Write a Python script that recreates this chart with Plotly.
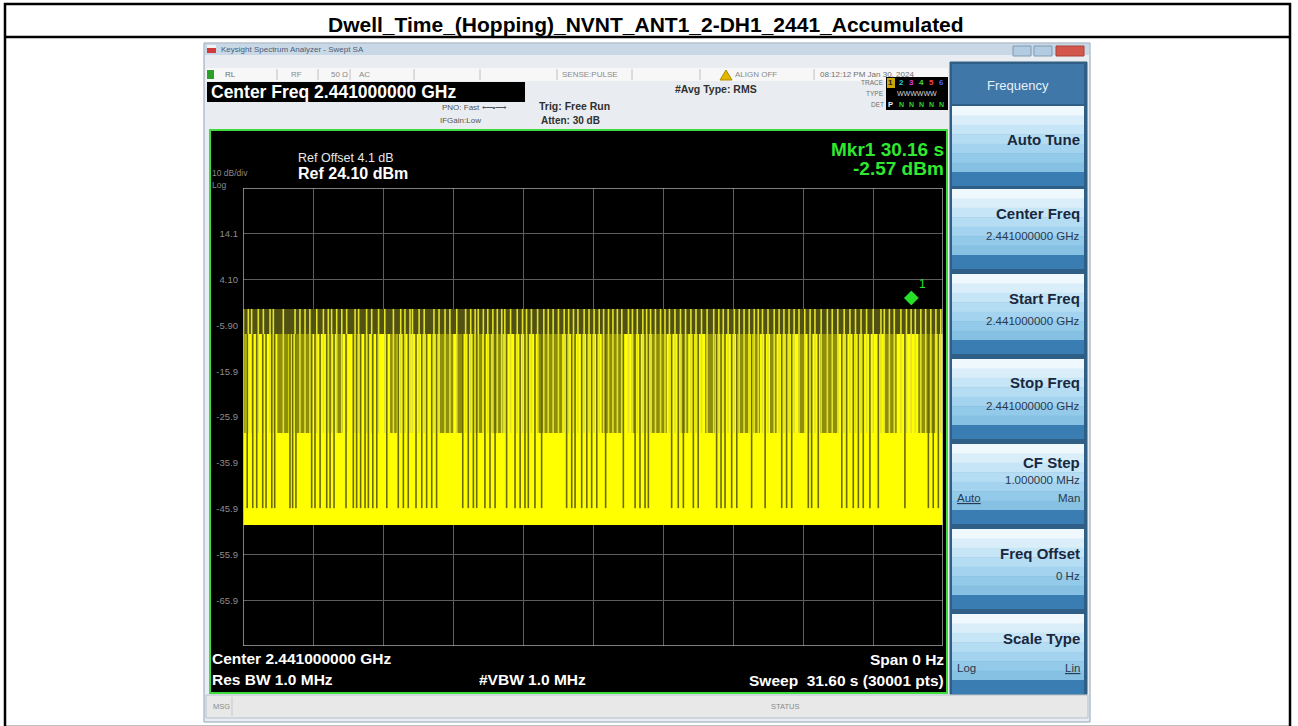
import plotly.graph_objects as go

W, H = 1298, 726
FONT = "Liberation Sans, Arial, sans-serif"


def px(x):
    return x / W


def py(y):
    return 1 - y / H


# ---------------- data ----------------
title_text = "Dwell_Time_(Hopping)_NVNT_ANT1_2-DH1_2441_Accumulated"
sweep_time_s = 31.60
n_div = 10
ref_level_dbm = 24.10
db_per_div = 10.0
y_tick_values = [14.1, 4.1, -5.9, -15.9, -25.9, -35.9, -45.9, -55.9, -65.9]
y_tick_labels = ["14.1", "4.10", "-5.90", "-15.9", "-25.9", "-35.9", "-45.9", "-55.9", "-65.9"]

peak_band_top_dbm = -2.3      # top of the dim peak band
pulse_top_dbm = -7.8          # top of the solid yellow body
partial_gap_bottom_dbm = -29.4
gap_bottom_dbm = -45.8
noise_floor_dbm = -49.5

marker_time_s = 30.16
marker_level_dbm = -2.57

# thin dark gaps (no pulse) inside the solid body, seconds
gap_times_s = [0.19, 0.44, 0.62, 0.89, 1.04, 1.30, 1.43, 2.12, 2.24, 2.39, 3.10, 3.25,
               3.48, 3.78, 3.93, 4.11, 4.65, 4.98, 5.13, 5.31, 5.51, 5.66, 5.86, 6.04,
               6.49, 7.01, 7.24, 7.46, 7.81, 8.07, 8.29, 8.52, 8.74, 9.92, 10.17, 10.40,
               10.55, 10.92, 11.15, 11.38, 11.90, 12.28, 12.51, 12.73, 12.88, 13.18, 13.48,
               14.61, 14.84, 14.99, 15.29, 15.52, 15.74, 15.97, 16.37, 17.17, 17.70, 17.92,
               18.15, 18.30, 19.35, 19.65, 19.88, 20.33, 20.55, 21.38, 21.58, 21.76, 22.06,
               22.29, 22.96, 23.57, 24.32, 24.54, 24.77, 25.52, 25.67, 25.97, 27.03, 27.25,
               27.55, 27.78, 28.00, 28.30, 28.68, 29.88, 30.94, 31.16, 31.39]

# wider partial gaps (olive bands reaching only ~-29 dBm)
partial_gap_start_s = [0.00, 1.55, 2.42, 4.23, 6.64, 8.89, 9.65, 10.47, 11.23, 13.33, 16.19,
                       17.55, 18.45, 19.80, 20.86, 22.36, 23.04, 23.79, 25.07, 26.05, 28.98, 30.48]
partial_gap_end_s = [0.12, 2.05, 3.06, 4.50, 6.94, 9.49, 9.92, 10.80, 11.75, 14.41, 17.10,
                     17.70, 19.13, 20.10, 21.31, 22.81, 23.34, 24.09, 25.37, 26.87, 29.51, 31.24]

# bright pulses seen in the peak band (and through the olive bands)
spike_times_s = [0.02, 0.24, 0.39, 0.69, 0.92, 1.22, 1.37, 1.82, 2.35, 2.57, 2.80, 3.02,
                 3.33, 3.63, 3.85, 4.00, 4.23, 4.46, 4.68, 5.06, 5.22, 5.58, 5.81, 6.12,
                 6.40, 6.79, 7.12, 7.31, 7.54, 7.65, 7.95, 8.18, 8.62, 8.85, 9.12, 9.34,
                 9.65, 10.05, 10.28, 10.48, 10.62, 10.85, 11.05, 11.28, 11.48, 11.68, 11.82,
                 12.08, 12.38, 12.62, 12.80, 13.02, 13.30, 13.58, 13.78, 14.00, 14.24, 14.50,
                 14.70, 14.92, 15.12, 15.40, 15.62, 15.85, 16.08, 16.28, 16.50, 16.70, 16.90,
                 17.10, 17.40, 17.58, 17.80, 18.05, 18.22, 18.40, 18.62, 18.85, 19.05, 19.25,
                 19.50, 19.75, 19.98, 20.22, 20.45, 20.70, 20.95, 21.25, 21.48, 21.68, 21.90,
                 22.18, 22.40, 22.62, 22.85, 23.08, 23.26, 23.45, 23.70, 23.98, 24.20, 24.42,
                 24.65, 24.88, 25.10, 25.36, 25.60, 25.82, 26.10, 26.38, 26.60, 26.85, 27.14,
                 27.40, 27.65, 27.90, 28.15, 28.45, 28.80, 28.95, 29.18, 29.40, 29.70, 29.95,
                 30.16, 30.35, 30.60, 30.82, 31.05, 31.28, 31.50]

softkey_labels = ["Auto Tune", "Center Freq", "Start Freq", "Stop Freq", "CF Step", "Freq Offset", "Scale Type"]
softkey_values = ["", "2.441000000 GHz", "2.441000000 GHz", "2.441000000 GHz", "1.000000 MHz", "0 Hz", ""]

# ---------------- figure ----------------
y_bottom = ref_level_dbm - n_div * db_per_div
fig = go.Figure()

# solid pulse body
fig.add_trace(go.Scatter(
    x=[0, sweep_time_s, sweep_time_s, 0, 0],
    y=[pulse_top_dbm, pulse_top_dbm, noise_floor_dbm, noise_floor_dbm, pulse_top_dbm],
    fill="toself", fillcolor="#ffff00", mode="lines", line=dict(width=0),
    hoverinfo="skip", showlegend=False))

# dim peak band
fig.add_trace(go.Scatter(
    x=[0, sweep_time_s, sweep_time_s, 0, 0],
    y=[peak_band_top_dbm, peak_band_top_dbm, pulse_top_dbm, pulse_top_dbm, peak_band_top_dbm],
    fill="toself", fillcolor="#515114", mode="lines", line=dict(width=0),
    hoverinfo="skip", showlegend=False))

# partial gaps as olive polygons
bx, by = [], []
for s, e in zip(partial_gap_start_s, partial_gap_end_s):
    bx += [s, e, e, s, s, None]
    by += [pulse_top_dbm, pulse_top_dbm, partial_gap_bottom_dbm, partial_gap_bottom_dbm, pulse_top_dbm, None]
fig.add_trace(go.Scatter(x=bx, y=by, fill="toself", fillcolor="#8e8e0a", mode="lines",
                         line=dict(width=0), hoverinfo="skip", showlegend=False))

# pulse spikes (peak band + through the olive bands)
sx, sy = [], []
for t in spike_times_s:
    sx += [t, t, None]
    sy += [partial_gap_bottom_dbm, peak_band_top_dbm, None]
fig.add_trace(go.Scatter(x=sx, y=sy, mode="lines", line=dict(color="#e2e22c", width=1.6),
                         hoverinfo="skip", showlegend=False))

# thin gaps
gx, gy = [], []
for t in gap_times_s:
    gx += [t, t, None]
    gy += [pulse_top_dbm, gap_bottom_dbm, None]
fig.add_trace(go.Scatter(x=gx, y=gy, mode="lines", line=dict(color="#6a6a08", width=1.6),
                         hoverinfo="skip", showlegend=False))

shapes = []


def rect(x0, y0, x1, y1, fill, line=None, lw=0, layer="below"):
    shapes.append(dict(type="rect", xref="paper", yref="paper",
                       x0=px(x0), x1=px(x1), y0=py(y1), y1=py(y0),
                       fillcolor=fill, line=dict(color=line or fill, width=lw), layer=layer))


def hline(x0, x1, y, color, lw=1):
    shapes.append(dict(type="line", xref="paper", yref="paper", x0=px(x0), x1=px(x1),
                       y0=py(y), y1=py(y), line=dict(color=color, width=lw), layer="below"))


def vline(x, y0, y1, color, lw=1):
    shapes.append(dict(type="line", xref="paper", yref="paper", x0=px(x), x1=px(x),
                       y0=py(y0), y1=py(y1), line=dict(color=color, width=lw), layer="below"))


ann = []


def txt(x, y, s, size, color, bold=False, xanchor="left", family=FONT):
    ann.append(dict(x=px(x), y=py(y), xref="paper", yref="paper",
                    text=("<b>%s</b>" % s) if bold else s, showarrow=False,
                    xanchor=xanchor, yanchor="middle", borderpad=0,
                    font=dict(size=size, color=color, family=family)))


# outer table
rect(5, 4, 1290, 727, "rgba(0,0,0,0)", "#000000", 2.5)
hline(5, 1290, 37, "#000000", 2.5)
txt(646, 24, title_text, 21, "#000000", bold=True, xanchor="center")

# screenshot frame
rect(204, 43, 1090, 722, "#e9edf1", "#8ea3b5", 1)
rect(205, 44, 1089, 55, "#c9d8e6")
rect(207, 45, 216, 48, "#f2f2f2")
rect(207, 48, 216, 53, "#d23a3a")
txt(220, 49.5, "Keysight Spectrum Analyzer - Swept SA", 8, "#4a5f78")
rect(1013, 46, 1031, 56, "#b2cbe0", "#7f9bb4", 1)
rect(1034, 46, 1052, 56, "#b2cbe0", "#7f9bb4", 1)
rect(1056, 46, 1084, 56, "#d4574c", "#a8423a", 1)

# status row
rect(206, 68, 948, 81, "#f7f7f7")
rect(207, 70, 214, 79, "#2aa02a")
txt(224, 74.5, "RL", 8, "#707070")
txt(290, 74.5, "RF", 8, "#8a8a8a")
txt(330, 74.5, "50 Ω", 8, "#8a8a8a")
txt(358, 74.5, "AC", 8, "#8a8a8a")
for sx_ in [277, 318, 350, 414, 480, 557, 632, 700, 814]:
    vline(sx_, 69, 80, "#c0c0c0")
txt(561, 75, "SENSE:PULSE", 8, "#8a8a8a")
shapes.append(dict(type="path", xref="paper", yref="paper",
                   path="M %f %f L %f %f L %f %f Z" % (px(720), py(80), px(732), py(80), px(726), py(70)),
                   fillcolor="#e0b800", line=dict(color="#b08a00", width=1), layer="below"))
txt(734, 75, "ALIGN OFF", 8, "#8a8a8a")
txt(819, 75, "08:12:12 PM Jan 30, 2024", 8, "#707070")

txt(674, 89, "#Avg Type: RMS", 10.5, "#303030", bold=True)
txt(885, 82, "TRACE", 6.5, "#707070", xanchor="right")
txt(885, 93, "TYPE", 6.5, "#707070", xanchor="right")
txt(885, 104, "DET", 6.5, "#707070", xanchor="right")
rect(886, 77, 948, 110, "#000000")
rect(887, 78, 895, 88, "#c8a800")
for i, c in enumerate(["#202020", "#26d0e8", "#e040e0", "#40e040", "#ff4040", "#5060ff"]):
    txt(891 + 10 * i, 83, str(i + 1), 8, c, bold=True, xanchor="center")
txt(917, 94, "WWWWWW", 7, "#d8d8d8", xanchor="center")
txt(891, 105, "P", 7.5, "#f0f0f0", bold=True, xanchor="center")
for i in range(1, 6):
    txt(891 + 10 * i, 105, "N", 7, "#30d030", bold=True, xanchor="center")

# center freq bar
rect(207, 82, 525, 102, "#000000")
txt(210, 92, "Center Freq 2.441000000 GHz", 17.5, "#ffffff", bold=True)
txt(441, 108, "PNO: Fast ⟵•⟶", 8, "#555555")
txt(439, 121, "IFGain:Low", 8, "#555555")
txt(538, 106, "Trig: Free Run", 10.5, "#303030", bold=True)
txt(540, 120, "Atten: 30 dB", 10, "#303030", bold=True)

# plot panel
rect(210, 130, 947, 693, "#000000", "#3cdc3c", 2)
txt(297, 158, "Ref Offset 4.1 dB", 12.5, "#e8e8e8")
txt(297, 173, "Ref 24.10 dBm", 16, "#ffffff", bold=True)
txt(211, 173, "10 dB/div", 8.5, "#8a8a8a")
txt(211, 185, "Log", 8.5, "#8a8a8a")
txt(945, 149, "Mkr1 30.16 s", 19, "#30e830", bold=True, xanchor="right")
txt(945, 169, "-2.57 dBm", 19, "#30e830", bold=True, xanchor="right")
txt(211, 658, "Center 2.441000000 GHz", 15.5, "#ffffff", bold=True)
txt(211, 679, "Res BW 1.0 MHz", 15.5, "#ffffff", bold=True)
txt(478, 679, "#VBW 1.0 MHz", 15.5, "#ffffff", bold=True)
txt(945, 659, "Span 0 Hz", 15.5, "#ffffff", bold=True, xanchor="right")
txt(945, 680, "Sweep  31.60 s (30001 pts)", 15.5, "#ffffff", bold=True, xanchor="right")

# msg bar
rect(206, 695, 1088, 718, "#e8e8e8", "#b5c2cc", 1)
txt(212, 706, "MSG", 7.5, "#8a8a8a")
vline(232, 697, 716, "#c8c8c8")
txt(785, 706, "STATUS", 7.5, "#8a8a8a", xanchor="center")

# softkey panel
rect(950, 62, 1087, 694, "#2f5f86", "#355f80", 1)
rect(952, 64, 1084, 104, "#3f77a8")
txt(1018, 85, "Frequency", 13, "#e6f0f8", xanchor="center")
grad = ["#eef8fd", "#d9eef9", "#c6e5f6", "#b4dcf2", "#a3d3ee", "#93caea", "#86c1e4"]
tops = [106, 189, 274, 359, 444, 529, 614]
for k, top in enumerate(tops):
    h = 80
    body = 66
    step = body / len(grad)
    for j, c in enumerate(grad):
        rect(952, top + j * step, 1084, top + (j + 1) * step + 0.5, c)
    rect(952, top + body, 1084, top + h, "#3a7db3")
    lab = softkey_labels[k]
    val = softkey_values[k]
    if lab == "Auto Tune":
        txt(1081, top + 34, lab, 15, "#18283f", bold=True, xanchor="right")
    elif lab == "CF Step":
        txt(1081, top + 18, lab, 15, "#18283f", bold=True, xanchor="right")
        txt(1081, top + 36, val, 11.5, "#2a3850", xanchor="right")
        txt(956, top + 54, "<u>Auto</u>", 11.5, "#2a3850")
        txt(1081, top + 54, "Man", 11.5, "#2a3850", xanchor="right")
    else:
        txt(1081, top + 24, lab, 15, "#18283f", bold=True, xanchor="right")
        if val:
            txt(1081, top + 47, val, 11.5, "#2a3850", xanchor="right")
    if lab == "Scale Type":
        txt(956, top + 54, "Log", 11.5, "#2a3850")
        txt(1081, top + 54, "<u>Lin</u>", 11.5, "#2a3850", xanchor="right")

# grid border (data coords)
shapes.append(dict(type="rect", xref="x", yref="y", x0=0, x1=sweep_time_s, y0=y_bottom,
                   y1=ref_level_dbm, line=dict(color="#a8a8a8", width=1.5), layer="above"))

# marker
ann.append(dict(x=marker_time_s, y=marker_level_dbm, xref="x", yref="y", text="◆",
                showarrow=False, xanchor="center", yanchor="bottom", yshift=1,
                font=dict(size=19, color="#28e028", family="DejaVu Sans")))
ann.append(dict(x=marker_time_s, y=marker_level_dbm, xref="x", yref="y", text="1",
                showarrow=False, xanchor="left", yanchor="bottom", xshift=6, yshift=17,
                font=dict(size=12, color="#28e028", family=FONT)))

fig.update_layout(
    width=W, height=H, autosize=False,
    margin=dict(l=0, r=0, t=0, b=0),
    paper_bgcolor="#ffffff", plot_bgcolor="rgba(0,0,0,0)",
    shapes=shapes, annotations=ann, showlegend=False,
    xaxis=dict(domain=[px(243), px(943)], range=[0, sweep_time_s], tick0=0,
               dtick=sweep_time_s / n_div, showgrid=True, gridcolor="#5e5e5e", gridwidth=1,
               showticklabels=False, zeroline=False, showline=False, fixedrange=True),
    yaxis=dict(domain=[py(646), py(188)], range=[y_bottom, ref_level_dbm],
               tickvals=y_tick_values, ticktext=y_tick_labels, showgrid=True,
               gridcolor="#5e5e5e", gridwidth=1, zeroline=False, showline=False,
               ticks="", ticklabelstandoff=4,
               tickfont=dict(size=9.5, color="#8c8c8c", family=FONT), fixedrange=True),
)

fig.write_html("out.html", config={"displayModeBar": False},
               post_script="document.body.style.margin='0';document.body.style.overflow='hidden';")
